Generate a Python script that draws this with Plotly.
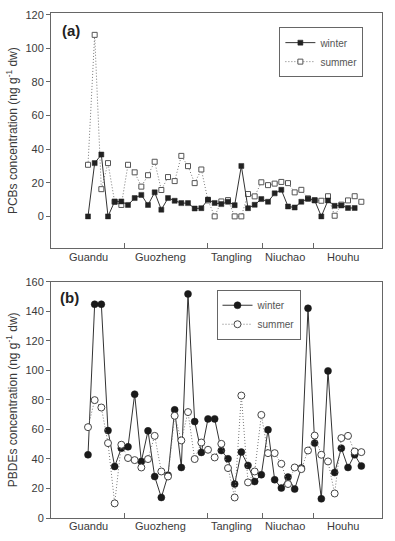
import plotly.graph_objects as go

# ---------------- data ----------------
sample_index = list(range(42))
groups = ["Guandu", "Guozheng", "Tangling", "Niuchao", "Houhu"]
group_label_pos = [0.1, 10.8, 21.5, 29.6, 38.2]
group_separators = [5.5, 17.9, 26.1, 33.75]

pcb_winter = [0, 31.7, 36.8, 0, 8.9, 8.9, 6.8, 10.9, 12.8, 6.8, 14.3, 4.0, 10.9, 9.3,
              7.9, 7.9, 4.7, 4.9, 10.0, 8.0, 7.3, 8.7, 6.7, 30.0, 4.9, 6.9, 10.3, 8.7,
              13.7, 15.8, 5.9, 5.3, 8.7, 10.5, 9.5, 0, 9.5, 6.3, 6.5, 5.0, 5.0, None]
pcb_summer = [30.7, 108, 16.2, 31.7, 8.6, 6.8, 30.7, 26.2, 17.7, 24.5, 32.5, 15.7, 23.4, 21.0,
              36.0, 29.9, 19.8, 27.9, 9.5, 0, 8.9, 9.7, 0, 0, 13.3, 11.9, 20.3, 18.6,
              19.5, 20.5, 19.8, 14.3, 15.8, 10.7, 9.7, 9.3, 12.0, 0.4, 7.0, 9.5, 12.0, 8.7]

pbde_winter = [42.8, 144.7, 144.7, 59.2, 34.9, 47.3, 48.2, 83.8, 38.3, 59.0, 28.1, 13.9, 29.0, 73.2,
               34.2, 151.7, 65.3, 44.4, 67.1, 67.1, 45.7, 40.1, 23.0, 44.6, 35.6, 24.7, 29.3, 59.7,
               25.9, 20.3, 27.7, 19.6, 33.8, 142.0, 50.7, 13.0, 99.6, 30.8, 47.3, 34.2, 42.8, 35.2]
pbde_summer = [61.5, 79.8, 74.8, 50.7, 9.9, 49.6, 40.6, 39.2, 34.2, 39.9, 55.6, 31.5, 28.1, 69.2,
               52.5, 71.7, 39.9, 51.1, 46.2, 41.0, 50.2, 33.8, 13.9, 82.9, 24.1, 31.5, 69.8, 43.9,
               43.9, 36.7, 23.0, 34.2, 33.1, 45.7, 55.8, 42.8, 38.3, 16.6, 54.1, 55.6, 45.0, 44.6]

FONT = "Liberation Sans, Arial, sans-serif"
TXT = "#3a3a3a"
AX = "#666666"
DOTS = "1px,2px"

fig = go.Figure()

# ---- panel (a): summer drawn below winter ----
fig.add_trace(go.Scatter(
    x=sample_index, y=pcb_summer, name="summer", mode="lines+markers",
    line=dict(color="#777777", width=1, dash=DOTS),
    marker=dict(symbol="square", size=5, color="white", line=dict(color="#555555", width=1)),
    xaxis="x", yaxis="y", legend="legend", legendrank=2, connectgaps=False))
fig.add_trace(go.Scatter(
    x=sample_index, y=pcb_winter, name="winter", mode="lines+markers",
    line=dict(color="#333333", width=1),
    marker=dict(symbol="square", size=5, color="#222222", line=dict(color="#222222", width=0.5)),
    xaxis="x", yaxis="y", legend="legend", legendrank=1, connectgaps=False))

# ---- panel (b) ----
fig.add_trace(go.Scatter(
    x=sample_index, y=pbde_winter, name="winter", mode="lines+markers",
    line=dict(color="#333333", width=1),
    marker=dict(symbol="circle", size=7, color="#1a1a1a", line=dict(color="#1a1a1a", width=0.5)),
    xaxis="x2", yaxis="y2", legend="legend2", legendrank=1))
fig.add_trace(go.Scatter(
    x=sample_index, y=pbde_summer, name="summer", mode="lines+markers",
    line=dict(color="#777777", width=1, dash=DOTS),
    marker=dict(symbol="circle", size=7, color="white", line=dict(color="#444444", width=1)),
    xaxis="x2", yaxis="y2", legend="legend2", legendrank=2))

xcommon = dict(range=[-5.55, 44.1], showline=True, linecolor=AX, linewidth=1, mirror=True,
               tickvals=group_separators, ticks="inside", ticklen=5, tickcolor=AX,
               showticklabels=False, showgrid=False, zeroline=False, automargin=False)
ycommon = dict(showline=True, linecolor=AX, linewidth=1, mirror=True, ticks="outside",
               ticklen=4, tickcolor=AX, showgrid=False, zeroline=False, automargin=False,
               tickfont=dict(family=FONT, size=11, color=TXT))

fig.update_layout(
    width=395, height=541, autosize=False,
    margin=dict(l=51, r=12.5, t=13, b=22.7, pad=0),
    paper_bgcolor="white", plot_bgcolor="white",
    font=dict(family=FONT, color=TXT),
    xaxis=dict(**xcommon, domain=[0, 1], anchor="y"),
    xaxis2=dict(**xcommon, domain=[0, 1], anchor="y2"),
    yaxis=dict(**ycommon, domain=[0.534, 1], range=[-19, 121], autorange=False,
               tickvals=[0, 20, 40, 60, 80, 100, 120],
               title=dict(text="PCBs concentration (ng g<sup>-1</sup> dw)", standoff=5,
                          font=dict(family=FONT, size=12, color=TXT)), anchor="x"),
    yaxis2=dict(**ycommon, domain=[0, 0.468], range=[0, 160], autorange=False,
                tickvals=[0, 20, 40, 60, 80, 100, 120, 140, 160],
                title=dict(text="PBDEs concentration (ng g<sup>-1</sup> dw)", standoff=5,
                           font=dict(family=FONT, size=12, color=TXT)), anchor="x2"),
    legend=dict(x=0.69, y=0.972, xanchor="left", yanchor="top", bgcolor="white",
                bordercolor=AX, borderwidth=1, font=dict(family=FONT, size=10, color="#555555"),
                tracegroupgap=0, itemwidth=30),
    legend2=dict(x=0.5, y=0.452, xanchor="left", yanchor="top", bgcolor="white",
                 bordercolor=AX, borderwidth=1, font=dict(family=FONT, size=10, color="#555555"),
                 tracegroupgap=0, itemwidth=30),
    showlegend=True,
)

annotations = []
for name, pos in zip(groups, group_label_pos):
    annotations.append(dict(text=name, x=pos, xref="x", y=0.5165, yref="paper",
                            showarrow=False, xanchor="center", yanchor="middle",
                            font=dict(family=FONT, size=11, color=TXT)))
    annotations.append(dict(text=name, x=pos, xref="x2", y=-0.0166, yref="paper",
                            showarrow=False, xanchor="center", yanchor="middle",
                            font=dict(family=FONT, size=11, color=TXT)))
annotations.append(dict(text="<b>(a)</b>", x=0.027, y=0.987, xref="paper", yref="paper",
                        showarrow=False, xanchor="left", yanchor="top",
                        font=dict(family=FONT, size=15, color="#222222")))
annotations.append(dict(text="<b>(b)</b>", x=0.022, y=0.457, xref="paper", yref="paper",
                        showarrow=False, xanchor="left", yanchor="top",
                        font=dict(family=FONT, size=15, color="#222222")))
fig.update_layout(annotations=annotations)

# remove the default 8px page margin so the figure starts at the window corner
fig.write_html("out.html", config={"displayModeBar": False},
               post_script="document.body.style.margin='0';")
